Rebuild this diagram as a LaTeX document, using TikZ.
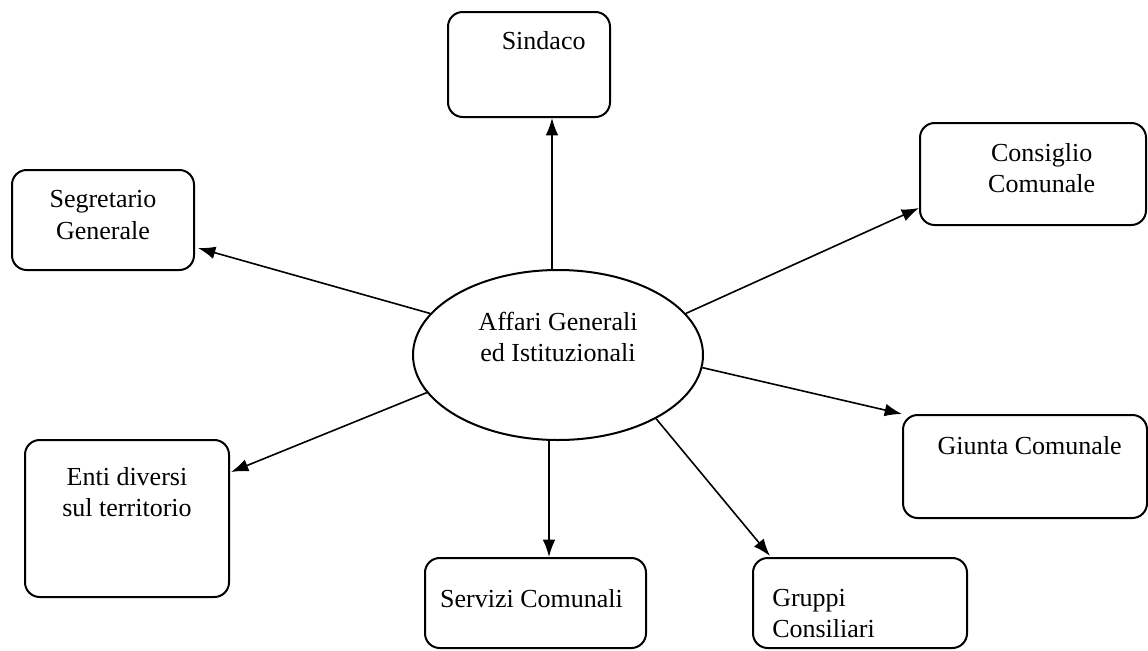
\documentclass[tikz,border=0pt]{standalone}
\usepackage{fontspec}
\setmainfont{Liberation Serif}
\usetikzlibrary{arrows.meta,calc,shapes.geometric}
\newcommand{\diagfont}{\fontsize{19.5}{23.5}\selectfont}

\begin{document}
\begin{tikzpicture}[x=0.75pt,y=-0.75pt,
box/.style={draw,line width=1.5pt,rounded corners=11pt,inner sep=0pt},
boxtext/.style={anchor=north,align=center,inner sep=0pt,font=\diagfont},
hub/.style={ellipse,draw,line width=1.5pt,inner sep=0pt,minimum width=217.5pt,minimum height=127.5pt},
arrow/.style={-{Latex[length=13pt,width=9.5pt]},line width=1.2pt}]
\useasboundingbox (0,0) rectangle (1148,650);
% central office
\node[hub,label={[font=\diagfont,align=center,yshift=13.5pt]center:{Affari Generali\\ed Istituzionali}}] (aff) at (558,355) {};
% offices around it
\node[box,minimum width=121.5pt,minimum height=78.75pt,label={[boxtext,xshift=11pt,yshift=-15.5pt]north:Sindaco}] (sindaco) at (529,64.5) {};
\node[box,minimum width=169.5pt,minimum height=76.5pt,label={[boxtext,xshift=6.5pt,yshift=-16pt]north:{Consiglio\\Comunale}}] (consiglio) at (1033,174) {};
\node[box,minimum width=136.5pt,minimum height=75pt,label={[boxtext,yshift=-16pt]north:{Segretario\\Generale}}] (segretario) at (103,220) {};
\node[box,minimum width=183pt,minimum height=77.25pt,label={[boxtext,xshift=3.5pt,yshift=-17pt]north:{Giunta Comunale}}] (giunta) at (1025,466.5) {};
\node[box,minimum width=153pt,minimum height=117.75pt,label={[boxtext,yshift=-21pt]north:{Enti diversi\\sul territorio}}] (enti) at (127,518.5) {};
\node[box,minimum width=165.75pt,minimum height=67.5pt,label={[boxtext,xshift=-3pt,yshift=-24pt]north:{Servizi Comunali}}] (servizi) at (535.5,603) {};
\node[box,minimum width=160.5pt,minimum height=67.5pt,label={[boxtext,align=left,anchor=north west,xshift=15pt,yshift=-24pt]north west:{Gruppi\\Consiliari}}] (gruppi) at (860,603) {};
% connectors
\draw[arrow] (aff.94) -- (aff.94 |- sindaco.south);
\draw[arrow] (aff.18) -- ($(consiglio.west)+(0,34)$);
\draw[arrow] (aff.162) -- ($(segretario.east)+(3,28)$);
\draw[arrow] (aff.-5) -- (giunta.north west);
\draw[arrow] (aff.196) -- ($(enti.east)+(1,-46.5)$);
\draw[arrow] (aff.264) -- (aff.264 |- servizi.north);
\draw[arrow] (aff.-33.5) -- ($(gruppi.north west)+(18,-1)$);
\end{tikzpicture}
\end{document}
